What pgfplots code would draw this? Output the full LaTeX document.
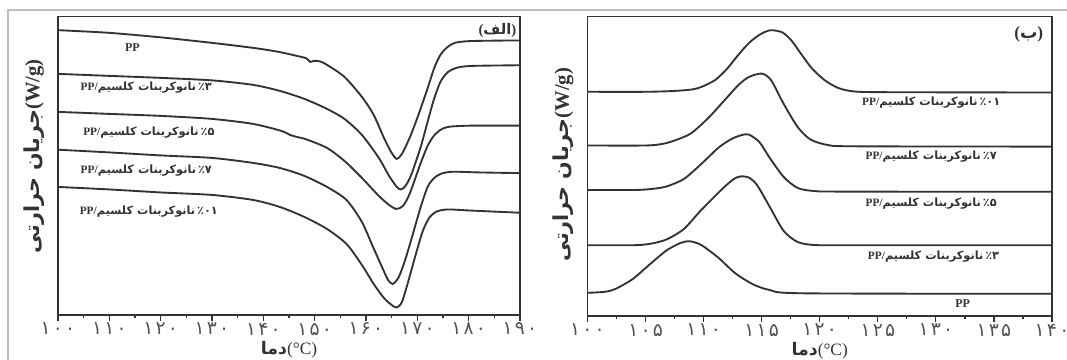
\documentclass[border=0pt]{standalone}
\usepackage{fontspec}
\setmainfont{Liberation Serif}
\newfontfamily\fa[Script=Arabic]{DejaVu Sans}
\newfontfamily\fadig[Script=Arabic, LetterSpace=12]{DejaVu Sans}
\TeXXeTstate=1
\usepackage{pgfplots}
\pgfplotsset{compat=1.18}
\definecolor{ink}{gray}{0.2}
\newcommand{\nlab}[1]{\textbf{PP/}{\fa\bfseries\beginR نانوکربنات کلسیم\endR\kern1.5pt #1}}
\tikzset{inlab/.style={font=\fontsize{8.5}{9}\selectfont, text=ink, inner sep=0pt}}
\pgfplotsset{
  dsc/.style={
    scale only axis,
    axis line style={draw=ink, line width=1.2pt},
    ytick=\empty,
    xtick pos=left,
    tick align=outside,
    major tick length=4.5pt,
    minor tick length=2.5pt,
    every tick/.style={ink, line width=0.9pt},
    minor x tick num=1,
    xticklabel style={font=\fadig\fontsize{14}{14}\selectfont, text=ink!85, yshift=2pt},
    xlabel style={at={(axis description cs:0.5,0)}, anchor=center, yshift=-26pt, font=\fontsize{13}{14}\selectfont, text=ink},
    ylabel style={at={(axis description cs:0,0.5)}, anchor=center, yshift=18pt, font=\fontsize{15.5}{16}\selectfont, text=ink},
    every axis plot post/.append style={ink, line width=1.4pt, smooth, tension=0.45, mark=none},
    clip=true,
  },
}
\begin{document}
\begin{tikzpicture}
\useasboundingbox (0pt,0pt) rectangle (800.25pt,-270pt);
\draw[black!25, line width=0.8pt] (6pt,-270pt) -- (6pt,-7.5pt) -- (800.25pt,-7.5pt);
% ---------------- left panel (الف)
\begin{axis}[dsc,
  at={(43.5pt,-236.25pt)}, anchor=south west,
  width=346.5pt, height=224pt,
  xmin=100, xmax=190, ymin=-315, ymax=-16.5,
  xtick={100,110,...,190},
  xticklabels={۱۰۰,۱۱۰,۱۲۰,۱۳۰,۱۴۰,۱۵۰,۱۶۰,۱۷۰,۱۸۰,۱۹۰},
  xlabel={{\fa\bfseries\beginR دما\endR}(°C)},
  ylabel={{\fa\bfseries\beginR جریان حرارتی\endR}\textbf{(W/g)}},
  ylabel style={xshift=7pt},
]
% PP
\addplot coordinates {(100,-30.3) (110,-33) (120,-37.5) (130,-43) (138,-48) (143,-52) (146.5,-56) (148.4,-58.5) (149.1,-62) (149.9,-61) (151,-61.5) (152.4,-65) (155.8,-77) (159.2,-97) (161.5,-115) (163.5,-138) (165,-153) (166,-159) (167,-154) (168.5,-138) (170,-118) (171.9,-90) (173.3,-68) (174.5,-55) (175.8,-47.5) (177.3,-43) (180,-41.3) (185,-40.8) (190,-40.6)};
% 3%
\addplot coordinates {(100,-74) (110,-76) (120,-78) (130,-80.5) (138,-85) (143.2,-91) (148,-99) (152.4,-109) (155.8,-119) (159.2,-135) (162.5,-158) (164.5,-176) (166,-187) (166.8,-189.5) (167.7,-186) (168.8,-175) (170.6,-148) (172,-122) (173.2,-100) (174.5,-82) (176,-72) (178,-67.5) (181,-66) (190,-65.4)};
% 5%
\addplot coordinates {(100,-112) (110,-114) (120,-116) (130,-119) (138,-124) (143.5,-131) (145.2,-135) (146.5,-137) (148.4,-139.5) (152.4,-148) (155.8,-161) (159.2,-178) (162.5,-196) (164.5,-205) (165.9,-209) (167.2,-206) (168.5,-194) (170.6,-164) (172,-146) (173.2,-136) (174.5,-130) (176,-127) (180,-125.8) (190,-125.7)};
% 7%
\addplot coordinates {(100,-149.8) (110,-152.5) (120,-155.5) (130,-158) (138,-163) (143.2,-168) (148,-176) (152.4,-187) (156.2,-200) (159.2,-222) (161.2,-245) (163.2,-268) (164.3,-280) (165.2,-284) (166.3,-278) (167.5,-262) (168.8,-240) (170.6,-208) (172,-187) (173.3,-178) (174.8,-173.5) (177,-171.8) (182,-172.5) (190,-173.2)};
% 10%
\addplot coordinates {(100,-187) (110,-189.5) (120,-192.5) (130,-195) (138,-200) (143.2,-207) (148,-217) (152.4,-229) (156.2,-244) (159.2,-265) (161.5,-284) (163.5,-298) (165,-305) (166,-307.5) (167,-302) (168.2,-282) (169.5,-258) (171,-232) (172.3,-218) (173.8,-211.5) (176,-209.5) (180,-210.5) (190,-212.8)};
\node[inlab, font=\fontsize{9}{9}\selectfont\bfseries] at (axis cs:114.5,-47.5) {PP};
\node[inlab] at (axis cs:117.2,-87.8) {\nlab{{\fa ٪۳}}};
\node[inlab] at (axis cs:117.7,-132.6) {\nlab{{\fa ٪۵}}};
\node[inlab] at (axis cs:117.2,-170.5) {\nlab{{\fa ٪۷}}};
\node[inlab] at (axis cs:117.7,-211.8) {\nlab{{\fa ٪۰۱}}};
\node[inlab, font=\fontsize{11}{11}\selectfont\bfseries] at (axis cs:185.6,-31) {({\fa\bfseries\beginR الف\endR})};
\end{axis}
% ---------------- right panel (ب)
\begin{axis}[dsc,
  at={(440.6pt,-237pt)}, anchor=south west,
  width=348.4pt, height=224.7pt,
  xmin=100, xmax=140, ymin=-316, ymax=-16.4,
  xtick={100,105,...,140},
  xticklabels={۱۰۰,۱۰۵,۱۱۰,۱۱۵,۱۲۰,۱۲۵,۱۳۰,۱۳۵,۱۴۰},
  xlabel={{\fa\bfseries\beginR دما\endR}(°C)},
  ylabel={{\fa\bfseries\beginR جریان حرارتی\endR}\textbf{(W/g)}},
  ylabel style={xshift=1pt},
]
% 10%
\addplot coordinates {(100,-91.8) (105,-91.8) (107.4,-91) (109,-89.5) (109.8,-87) (111,-80) (112,-69) (112.7,-59) (113.5,-48) (114.2,-40) (115,-33.5) (115.8,-30.2) (116.8,-32.5) (117.6,-41) (118.4,-54) (119.3,-68) (120.4,-80) (121.6,-88) (123,-91.5) (126,-92.2) (140,-92.5)};
% 7%
\addplot coordinates {(100,-145.5) (105,-145.5) (106.5,-143.8) (107.5,-140.5) (108.9,-133.5) (110.4,-118) (111.9,-99) (113,-85) (113.9,-77) (115,-73.6) (115.8,-80) (116.9,-104) (118.1,-127) (119.2,-139.5) (120.7,-145) (123,-146.3) (140,-146.6)};
% 5%
\addplot coordinates {(100,-190) (104,-190) (105.5,-189) (106.8,-186.5) (108.3,-179) (109.8,-164) (111.3,-147.5) (112.4,-139) (113.3,-135) (113.9,-134.6) (114.8,-142) (115.7,-158) (116.9,-177) (118.1,-188) (119.5,-191) (122,-191.6) (140,-191.8)};
% 3%
\addplot coordinates {(100,-245.2) (104,-245.2) (105.4,-243.8) (106.8,-239.5) (108.3,-229) (109.8,-210) (111.6,-189) (112.6,-179) (113.2,-176.4) (113.9,-177.6) (114.6,-185) (115.7,-207) (116.9,-231) (118.1,-242) (119.5,-245) (122,-245.2) (140,-245.2)};
% PP
\addplot coordinates {(100,-292.8) (101.5,-291.8) (102.4,-289) (103.9,-279) (105.4,-264) (106.8,-250.5) (108,-243) (108.8,-241.3) (109.8,-245) (111.3,-258) (112.7,-273) (114.2,-284) (115.7,-290) (118.6,-293.3) (140,-293.8)};
\node[inlab] at (axis cs:129.6,-102.7) {\nlab{{\fa ٪۰۱}}};
\node[inlab] at (axis cs:129.6,-156.8) {\nlab{{\fa ٪۷}}};
\node[inlab] at (axis cs:129.6,-203.8) {\nlab{{\fa ٪۵}}};
\node[inlab] at (axis cs:129.8,-256.8) {\nlab{{\fa ٪۳}}};
\node[inlab, font=\fontsize{9}{9}\selectfont\bfseries] at (axis cs:132.3,-304) {PP};
\node[inlab, font=\fontsize{13}{13}\selectfont\bfseries] at (axis cs:138,-34) {({\fa\bfseries\beginR ب\endR})};
\end{axis}
\end{tikzpicture}
\end{document}
